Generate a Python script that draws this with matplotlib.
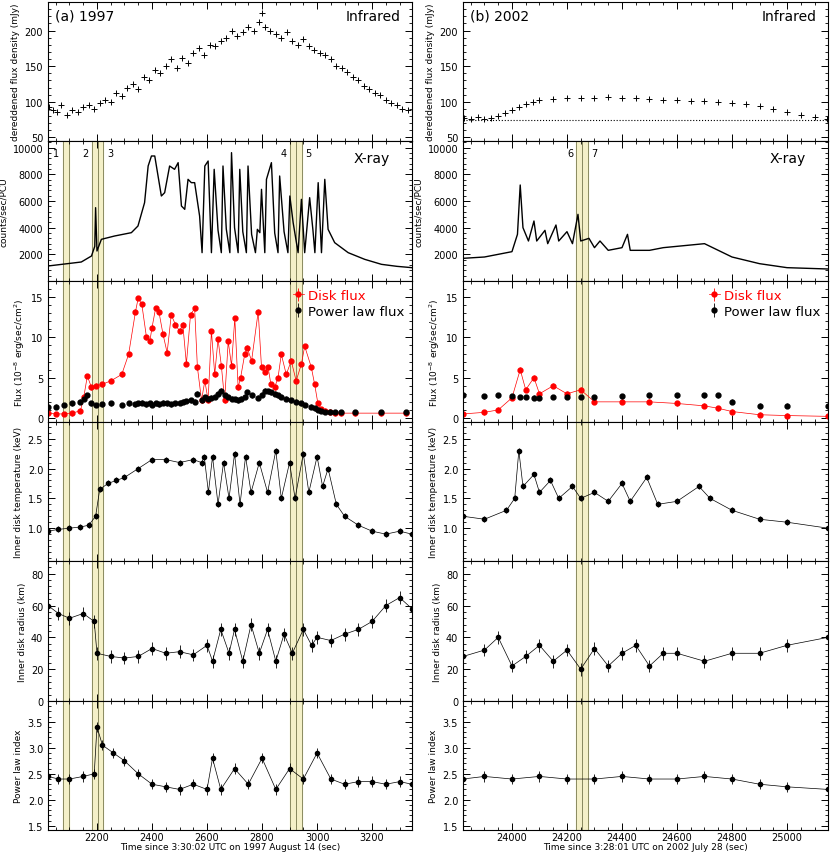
import numpy as np
import matplotlib
matplotlib.use("Agg")
import matplotlib.pyplot as plt
from matplotlib.ticker import AutoMinorLocator

# ---------------- 1997 (left) ----------------
ir97_t = [2025,2040,2055,2070,2090,2110,2130,2150,2170,2190,2210,2230,2250,2270,2290,2310,2330,2350,2370,2390,2410,2430,2450,2470,2490,2510,2530,2550,2570,2590,2610,2630,2650,2670,2690,2710,2730,2750,2770,2790,2800,2810,2830,2850,2870,2890,2910,2930,2950,2970,2990,3010,3030,3050,3070,3090,3110,3130,3150,3170,3190,3210,3230,3250,3270,3290,3310,3330]
ir97_v = [92,88,85,95,82,88,86,92,95,90,98,103,100,112,108,120,125,118,135,130,145,140,150,160,148,162,155,168,175,165,180,178,185,190,200,192,198,205,200,212,225,205,200,195,190,198,185,180,188,178,172,168,165,160,150,148,142,135,130,122,118,112,110,102,98,95,90,88]

xr97_t = [2022,2143,2180,2192,2195,2200,2216,2264,2325,2349,2373,2386,2398,2410,2422,2434,2446,2464,2482,2495,2507,2519,2531,2543,2555,2573,2582,2592,2604,2616,2626,2640,2652,2658,2670,2683,2689,2700,2713,2719,2730,2743,2749,2762,2776,2783,2792,2798,2810,2816,2834,2846,2858,2864,2880,2894,2901,2913,2931,2943,2955,2973,2985,2992,3004,3016,3028,3040,3064,3113,3173,3234,3290,3345]
xr97_v = [1125,1425,1875,2600,5500,2250,3125,3375,3625,4125,5875,8625,9375,9375,7875,6375,6625,8625,8375,8875,5625,5375,7625,7375,7375,4875,2125,8625,9000,2125,8375,3800,2125,8625,3900,2125,9625,4000,2125,8375,3700,2125,8625,3500,2125,3875,3625,6875,2125,7625,8875,3600,2125,7875,3700,2125,6375,4375,2125,6125,2125,6250,3800,2125,7375,2125,7625,3875,2875,2125,1625,1250,1100,1000]

fl97_t = [2022,2050,2080,2110,2140,2152,2165,2180,2198,2220,2250,2290,2315,2340,2350,2363,2380,2392,2400,2413,2425,2440,2455,2470,2485,2500,2512,2525,2540,2555,2565,2580,2592,2604,2616,2628,2640,2652,2664,2677,2689,2701,2713,2722,2737,2746,2762,2786,2798,2810,2822,2832,2846,2858,2870,2888,2906,2924,2943,2955,2979,2991,3003,3016,3028,3046,3064,3088,3137,3234,3325]
dk97_v = [0.6,0.5,0.5,0.6,0.9,2.6,5.2,3.8,4.0,4.2,4.6,5.4,7.9,13.2,14.9,14.1,10.0,9.5,11.2,13.6,13.2,10.4,8.1,12.8,11.6,10.8,11.6,6.7,12.8,13.6,6.3,2.2,4.6,2.2,10.8,5.4,9.8,6.5,2.2,9.5,6.5,12.4,3.8,5.0,7.9,8.7,7.1,13.2,6.3,5.7,6.3,4.2,3.8,5.0,7.9,5.4,7.1,4.6,6.7,8.9,6.3,4.2,1.8,1.1,0.9,0.7,0.6,0.6,0.6,0.6,0.6]
pl97_v = [1.3,1.4,1.6,1.8,2.0,2.4,2.8,1.8,1.6,1.7,1.8,1.6,1.8,1.7,1.8,1.9,1.7,1.8,1.6,1.8,1.7,1.9,1.8,1.7,1.8,1.9,2.0,2.1,2.2,2.0,3.0,2.2,2.6,2.4,2.5,2.6,3.0,3.4,2.8,2.6,2.4,2.3,2.2,2.4,2.6,3.2,2.8,2.5,2.9,3.4,3.3,3.2,3.0,2.8,2.6,2.4,2.2,2.0,1.8,1.6,1.4,1.2,1.0,0.9,0.8,0.8,0.7,0.7,0.7,0.7,0.7]

tp97_t = [2022,2060,2100,2140,2170,2195,2210,2240,2270,2300,2350,2400,2450,2500,2550,2580,2590,2605,2620,2640,2660,2680,2700,2720,2740,2760,2790,2820,2850,2870,2900,2920,2950,2970,3000,3020,3040,3070,3100,3150,3200,3250,3300,3345]
tp97_v = [0.95,0.98,1.0,1.02,1.05,1.2,1.65,1.75,1.8,1.85,2.0,2.15,2.15,2.1,2.15,2.1,2.2,1.6,2.2,1.4,2.1,1.5,2.25,1.4,2.2,1.6,2.1,1.6,2.3,1.5,2.1,1.5,2.25,1.6,2.2,1.7,2.0,1.4,1.2,1.05,0.95,0.9,0.95,0.9]

rd97_t = [2022,2060,2100,2150,2190,2200,2250,2300,2350,2400,2450,2500,2550,2600,2620,2650,2680,2700,2730,2760,2790,2820,2850,2880,2910,2950,2980,3000,3050,3100,3150,3200,3250,3300,3345]
rd97_v = [60,55,52,55,50,30,28,27,28,33,30,31,29,35,25,45,30,45,25,48,30,45,25,42,30,45,35,40,38,42,45,50,60,65,58]

ix97_t = [2022,2060,2100,2150,2190,2200,2220,2260,2300,2350,2400,2450,2500,2550,2600,2620,2650,2700,2750,2800,2850,2900,2950,3000,3050,3100,3150,3200,3250,3300,3345]
ix97_v = [2.45,2.4,2.4,2.45,2.5,3.4,3.05,2.9,2.75,2.5,2.3,2.25,2.2,2.3,2.2,2.8,2.2,2.6,2.3,2.8,2.2,2.6,2.4,2.9,2.4,2.3,2.35,2.35,2.3,2.35,2.3]

# ---------------- 2002 (right) ----------------
ir02_t = [23825,23850,23875,23900,23925,23950,23975,24000,24025,24050,24075,24100,24150,24200,24250,24300,24350,24400,24450,24500,24550,24600,24650,24700,24750,24800,24850,24900,24950,25000,25050,25100,25145]
ir02_v = [77,76,78,76,77,80,84,88,93,97,100,102,104,105,106,106,107,106,105,104,103,102,101,101,100,99,97,94,90,86,82,79,76]

xr02_t = [23822,23900,23950,24000,24020,24030,24040,24060,24080,24090,24120,24130,24160,24170,24200,24220,24240,24250,24280,24300,24320,24350,24400,24420,24430,24500,24550,24600,24700,24750,24800,24900,25000,25149]
xr02_v = [1700,1800,2000,2200,3500,7200,4000,3000,4500,3000,3800,2800,4200,3000,3700,2800,5000,3000,3200,2500,3000,2300,2500,3500,2300,2300,2500,2600,2800,2300,1800,1300,1000,900]

fl02_t = [23822,23900,23950,24000,24030,24050,24080,24100,24150,24200,24250,24300,24400,24500,24600,24700,24750,24800,24900,25000,25149]
dk02_v = [0.5,0.7,1.0,2.5,6.0,3.5,5.0,3.0,4.0,3.0,3.5,2.0,2.0,2.0,1.8,1.5,1.2,0.8,0.4,0.3,0.2]
pl02_v = [2.8,2.7,2.8,2.7,2.6,2.6,2.5,2.5,2.6,2.6,2.6,2.6,2.7,2.8,2.8,2.8,2.8,2.0,1.5,1.5,1.5]

tp02_t = [23822,23900,23980,24010,24025,24040,24080,24100,24140,24170,24220,24250,24300,24350,24400,24430,24490,24530,24600,24680,24720,24800,24900,25000,25149]
tp02_v = [1.2,1.15,1.3,1.5,2.3,1.7,1.9,1.6,1.8,1.5,1.7,1.5,1.6,1.45,1.75,1.45,1.85,1.4,1.45,1.7,1.5,1.3,1.15,1.1,1.0]

rd02_t = [23822,23900,23950,24000,24050,24100,24150,24200,24250,24300,24350,24400,24450,24500,24550,24600,24700,24800,24900,25000,25149]
rd02_v = [28,32,40,22,28,35,25,32,20,33,22,30,35,22,30,30,25,30,30,35,40]

ix02_t = [23822,23900,24000,24100,24200,24300,24400,24500,24600,24700,24800,24900,25000,25149]
ix02_v = [2.4,2.45,2.4,2.45,2.4,2.4,2.45,2.4,2.4,2.45,2.4,2.3,2.25,2.2]

bands97 = [(2077, 2097), (2182, 2204), (2204, 2222), (2902, 2924), (2924, 2946)]
bands02 = [(24233, 24255), (24255, 24277)]
labels97 = [("1", 2062, "r"), ("2", 2170, "r"), ("3", 2236, "l"), ("4", 2890, "r"), ("5", 2958, "l")]
labels02 = [("6", 24222, "r"), ("7", 24288, "l")]

fig = plt.figure(figsize=(8.3, 8.54), dpi=100)
rows = [3, 142, 282, 423, 562, 702, 831]
cols = [(48, 364), (463, 365)]
H = 854.0; W = 830.0

ylabels = ["dereddened flux density (mJy)", "counts/sec/PCU", "Flux (10$^{-8}$ erg/sec/cm$^2$)",
           "Inner disk temperature (keV)", "Inner disk radius (km)", "Power law index"]
ylims = [(45, 240), (0, 10500), (-0.5, 17), (0.45, 2.78), (0, 88), (1.42, 3.9)]
yticks = [[50, 100, 150, 200], [2000, 4000, 6000, 8000, 10000], [0, 5, 10, 15],
          [1.0, 1.5, 2.0, 2.5], [0, 20, 40, 60, 80], [1.5, 2.0, 2.5, 3.0, 3.5]]

data = [
    dict(xlim=(2022, 3345), xticks=[2200, 2400, 2600, 2800, 3000, 3200],
         ir=(ir97_t, ir97_v), xr=(xr97_t, xr97_v), fl=(fl97_t, dk97_v, pl97_v),
         tp=(tp97_t, tp97_v), rd=(rd97_t, rd97_v), ix=(ix97_t, ix97_v),
         bands=bands97, labels=labels97, title="(a) 1997",
         xlabel="Time since 3:30:02 UTC on 1997 August 14 (sec)"),
    dict(xlim=(23822, 25149), xticks=[24000, 24200, 24400, 24600, 24800, 25000],
         ir=(ir02_t, ir02_v), xr=(xr02_t, xr02_v), fl=(fl02_t, dk02_v, pl02_v),
         tp=(tp02_t, tp02_v), rd=(rd02_t, rd02_v), ix=(ix02_t, ix02_v),
         bands=bands02, labels=labels02, title="(b) 2002",
         xlabel="Time since 3:28:01 UTC on 2002 July 28 (sec)"),
]

for c, (x0, w) in enumerate(cols):
    d = data[c]
    for r in range(6):
        top, bot = rows[r], rows[r + 1]
        ax = fig.add_axes([x0 / W, 1 - bot / H, w / W, (bot - top) / H])
        ax.set_xlim(*d["xlim"]); ax.set_ylim(*ylims[r])
        ax.set_yticks(yticks[r]); ax.set_xticks(d["xticks"])
        ax.xaxis.set_minor_locator(AutoMinorLocator(4))
        ax.yaxis.set_minor_locator(AutoMinorLocator(5))
        ax.tick_params(which="both", direction="in", top=True, right=True, labelsize=7)
        ax.tick_params(axis="x", pad=1.5)
        ax.tick_params(which="major", length=5, width=0.7)
        ax.tick_params(which="minor", length=2.5, width=0.6)
        for s in ax.spines.values():
            s.set_linewidth(0.8)
        ax.set_ylabel(ylabels[r], fontsize=6.5, labelpad=3)
        if r < 5:
            ax.set_xticklabels([])
        else:
            ax.set_xlabel(d["xlabel"], fontsize=6.5, labelpad=0)
        if r >= 1:
            for a, b in d["bands"]:
                ax.axvspan(a, b, color="#f4f0c8", zorder=0)
                ax.axvline(a, color="#8a8a60", lw=0.7, zorder=1)
                ax.axvline(b, color="#8a8a60", lw=0.7, zorder=1)
        if r == 0:
            ax.plot(*d["ir"], "k+", ms=4, mew=0.7)
            if c == 1:
                ax.axhline(75, color="k", ls=":", lw=0.8)
            ax.text(0.02, 0.95, d["title"], transform=ax.transAxes, fontsize=10, va="top")
            ax.text(0.97, 0.95, "Infrared", transform=ax.transAxes, fontsize=10, va="top", ha="right")
        elif r == 1:
            ax.plot(*d["xr"], "k-", lw=1.0)
            ax.text(0.94, 0.93, "X-ray", transform=ax.transAxes, fontsize=10, va="top", ha="right")
            for lab, xt, side in d["labels"]:
                ax.text(xt, 9600, lab, fontsize=7, ha="right" if side == "r" else "left", va="center")
        elif r == 2:
            t, dk, pl = d["fl"]
            ax.errorbar(t, dk, yerr=0.3, fmt="o-", color="red", ms=3.5, lw=0.5, elinewidth=0.6, label="Disk flux")
            ax.errorbar(t, pl, yerr=0.3, fmt="o", color="black", ms=3.5, elinewidth=0.6, label="Power law flux")
            ax.legend(loc="upper right", fontsize=9.5, frameon=False, handlelength=0.8,
                      handletextpad=0.3, borderaxespad=0.2, labelspacing=0.2, labelcolor=["red", "black"])
        elif r == 3:
            ax.errorbar(*d["tp"], yerr=0.05, fmt="o-", color="k", ms=3, lw=0.5, elinewidth=0.6)
        elif r == 4:
            ax.errorbar(*d["rd"], yerr=4, fmt="o-", color="k", ms=3, lw=0.5, elinewidth=0.6)
        else:
            ax.errorbar(*d["ix"], yerr=0.1, fmt="o-", color="k", ms=3, lw=0.5, elinewidth=0.6)

fig.savefig("out.png", dpi=100)
